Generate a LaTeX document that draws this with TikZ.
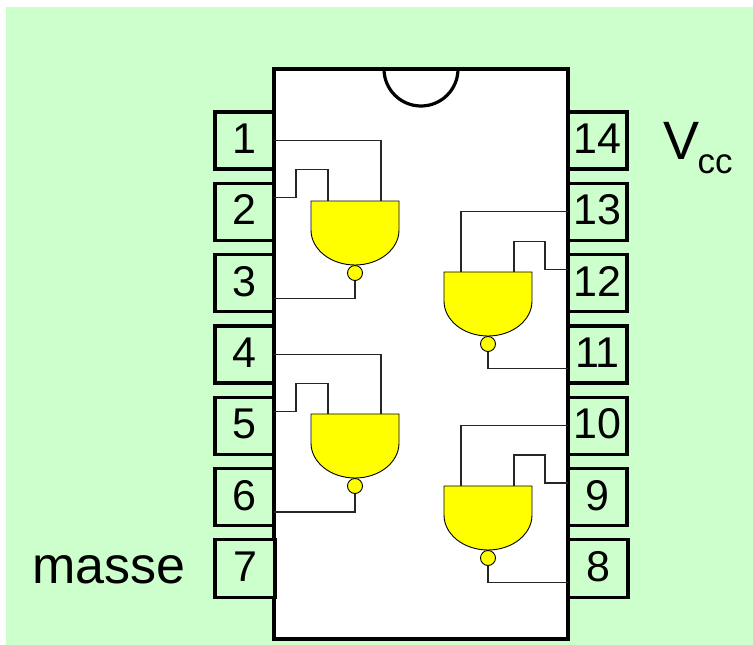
\documentclass[tikz,border=0pt]{standalone}
\usepackage{fontspec}
\setmainfont{Liberation Sans}
\definecolor{BoardGreen}{HTML}{CCFFCC}
\definecolor{GateYellow}{HTML}{FFFF00}
\usetikzlibrary{positioning, calc}
\tikzset{
  % Box styles
  pinbox/.style={rectangle, draw=black, line width=3.2pt, fill=BoardGreen, outer sep=0pt, inner sep=0pt, minimum width=59pt, minimum height=57pt, text height=30pt, text depth=4pt, font=\fontsize{43}{43}\selectfont},
  chipbox/.style={rectangle, draw=black, line width=3.2pt, fill=white, outer sep=0pt, minimum width=294pt, minimum height=570pt},
  labelnode/.style={inner sep=0pt, outer sep=0pt, font=\fontsize{52}{52}\selectfont},
  % Gate styles
  gatenode/.style={rectangle, outer sep=0pt, inner sep=0pt, minimum width=88pt, minimum height=64pt},
  gatebody/.style={draw=black, line width=0.9pt, fill=GateYellow},
  bubblenode/.style={circle, draw=black, line width=0.9pt, fill=GateYellow, outer sep=0pt, inner sep=0pt, minimum size=15pt},
  % Wire styles
  wire/.style={line width=1.1pt, black!85}
}
\begin{document}
\begin{tikzpicture}[x=1pt, y=1pt, node distance=14.3pt]
  \useasboundingbox (0,0) rectangle (753,-645);
  \fill[BoardGreen] (6,-7) rectangle (753,-645);

  % Left pins
  \node[pinbox] (pin1) at (244.5,-140.5) {1};
  \node[pinbox, below=of pin1] (pin2) {2};
  \node[pinbox, below=of pin2] (pin3) {3};
  \node[pinbox, below=of pin3] (pin4) {4};
  \node[pinbox, below=of pin4] (pin5) {5};
  \node[pinbox, below=of pin5] (pin6) {6};

  % Right pins
  \node[pinbox, right=294pt of pin1] (pin14) {14};
  \node[pinbox, below=of pin14] (pin13) {13};
  \node[pinbox, below=of pin13] (pin12) {12};
  \node[pinbox, below=of pin12] (pin11) {11};
  \node[pinbox, below=of pin11] (pin10) {10};
  \node[pinbox, below=of pin10] (pin9) {9};
  \node[pinbox, below=of pin9, minimum width=60pt, minimum height=58pt, xshift=0.5pt] (pin8) {8};

  % Package
  \node[chipbox] (chip) at (421,-354) {};
  \draw[line width=3.2pt] ($(chip.north)+(-37,0)$) arc[start angle=180, end angle=360, radius=37];
  \node[pinbox, below=of pin6, minimum width=60pt, minimum height=58pt, xshift=0.5pt] (pin7) {7};

  % Labels
  \node[labelnode, left=29.5pt of pin7, yshift=-1pt] (masse) {masse};
  \node[labelnode, right=36pt of pin14, anchor=west, yshift=-8pt, font=\fontsize{54}{54}\selectfont] (vcc) {V\kern-1.5pt\raisebox{-14pt}{\fontsize{35}{35}\selectfont cc}};

  % Gate 1
  \node[gatenode] (g1) at (355,-233) {};
  \draw[gatebody] (g1.north west) -- (g1.north east) -- ++(0,-29) arc[start angle=0, end angle=-180, x radius=44, y radius=35] -- cycle;
  \node[bubblenode, below=0.5pt of g1] (b1) {};
  \draw[wire] (pin1.east) -| ($(g1.north west)+(70,0)$);
  \draw[wire] ($(pin2.east)+(0,14)$) -- ++(22,0) -- ++(0,28) -| ($(g1.north west)+(17,0)$);
  \draw[wire] (b1.south) |- ($(pin3.east)+(0,-15)$);

  % Gate 2
  \node[gatenode] (g2) at (488,-304) {};
  \draw[gatebody] (g2.north west) -- (g2.north east) -- ++(0,-29) arc[start angle=0, end angle=-180, x radius=44, y radius=35] -- cycle;
  \node[bubblenode, below=0.5pt of g2] (b2) {};
  \draw[wire] ($(pin13.west)+(0,0.5)$) -| ($(g2.north west)+(17,0)$);
  \draw[wire] ($(pin12.west)+(0,14)$) -- ++(-23,0) -- ++(0,28) -| ($(g2.north west)+(70,0)$);
  \draw[wire] (b2.south) |- ($(pin11.west)+(0,-14)$);

  % Gate 3
  \node[gatenode] (g3) at (355,-446) {};
  \draw[gatebody] (g3.north west) -- (g3.north east) -- ++(0,-29) arc[start angle=0, end angle=-180, x radius=44, y radius=35] -- cycle;
  \node[bubblenode, below=0.5pt of g3] (b3) {};
  \draw[wire] (pin4.east) -| ($(g3.north west)+(70,0)$);
  \draw[wire] ($(pin5.east)+(0,14)$) -- ++(22,0) -- ++(0,28) -| ($(g3.north west)+(17,0)$);
  \draw[wire] (b3.south) |- ($(pin6.east)+(0,-15)$);

  % Gate 4
  \node[gatenode] (g4) at (488,-518) {};
  \draw[gatebody] (g4.north west) -- (g4.north east) -- ++(0,-29) arc[start angle=0, end angle=-180, x radius=44, y radius=35] -- cycle;
  \node[bubblenode, below=0.5pt of g4] (b4) {};
  \draw[wire] (pin10.west) -| ($(g4.north west)+(17,0)$);
  \draw[wire] ($(pin9.west)+(0,14)$) -- ++(-23,0) -- ++(0,28) -| ($(g4.north west)+(70,0)$);
  \draw[wire] (b4.south) |- ($(pin8.west)+(0,-14)$);
\end{tikzpicture}
\end{document}
